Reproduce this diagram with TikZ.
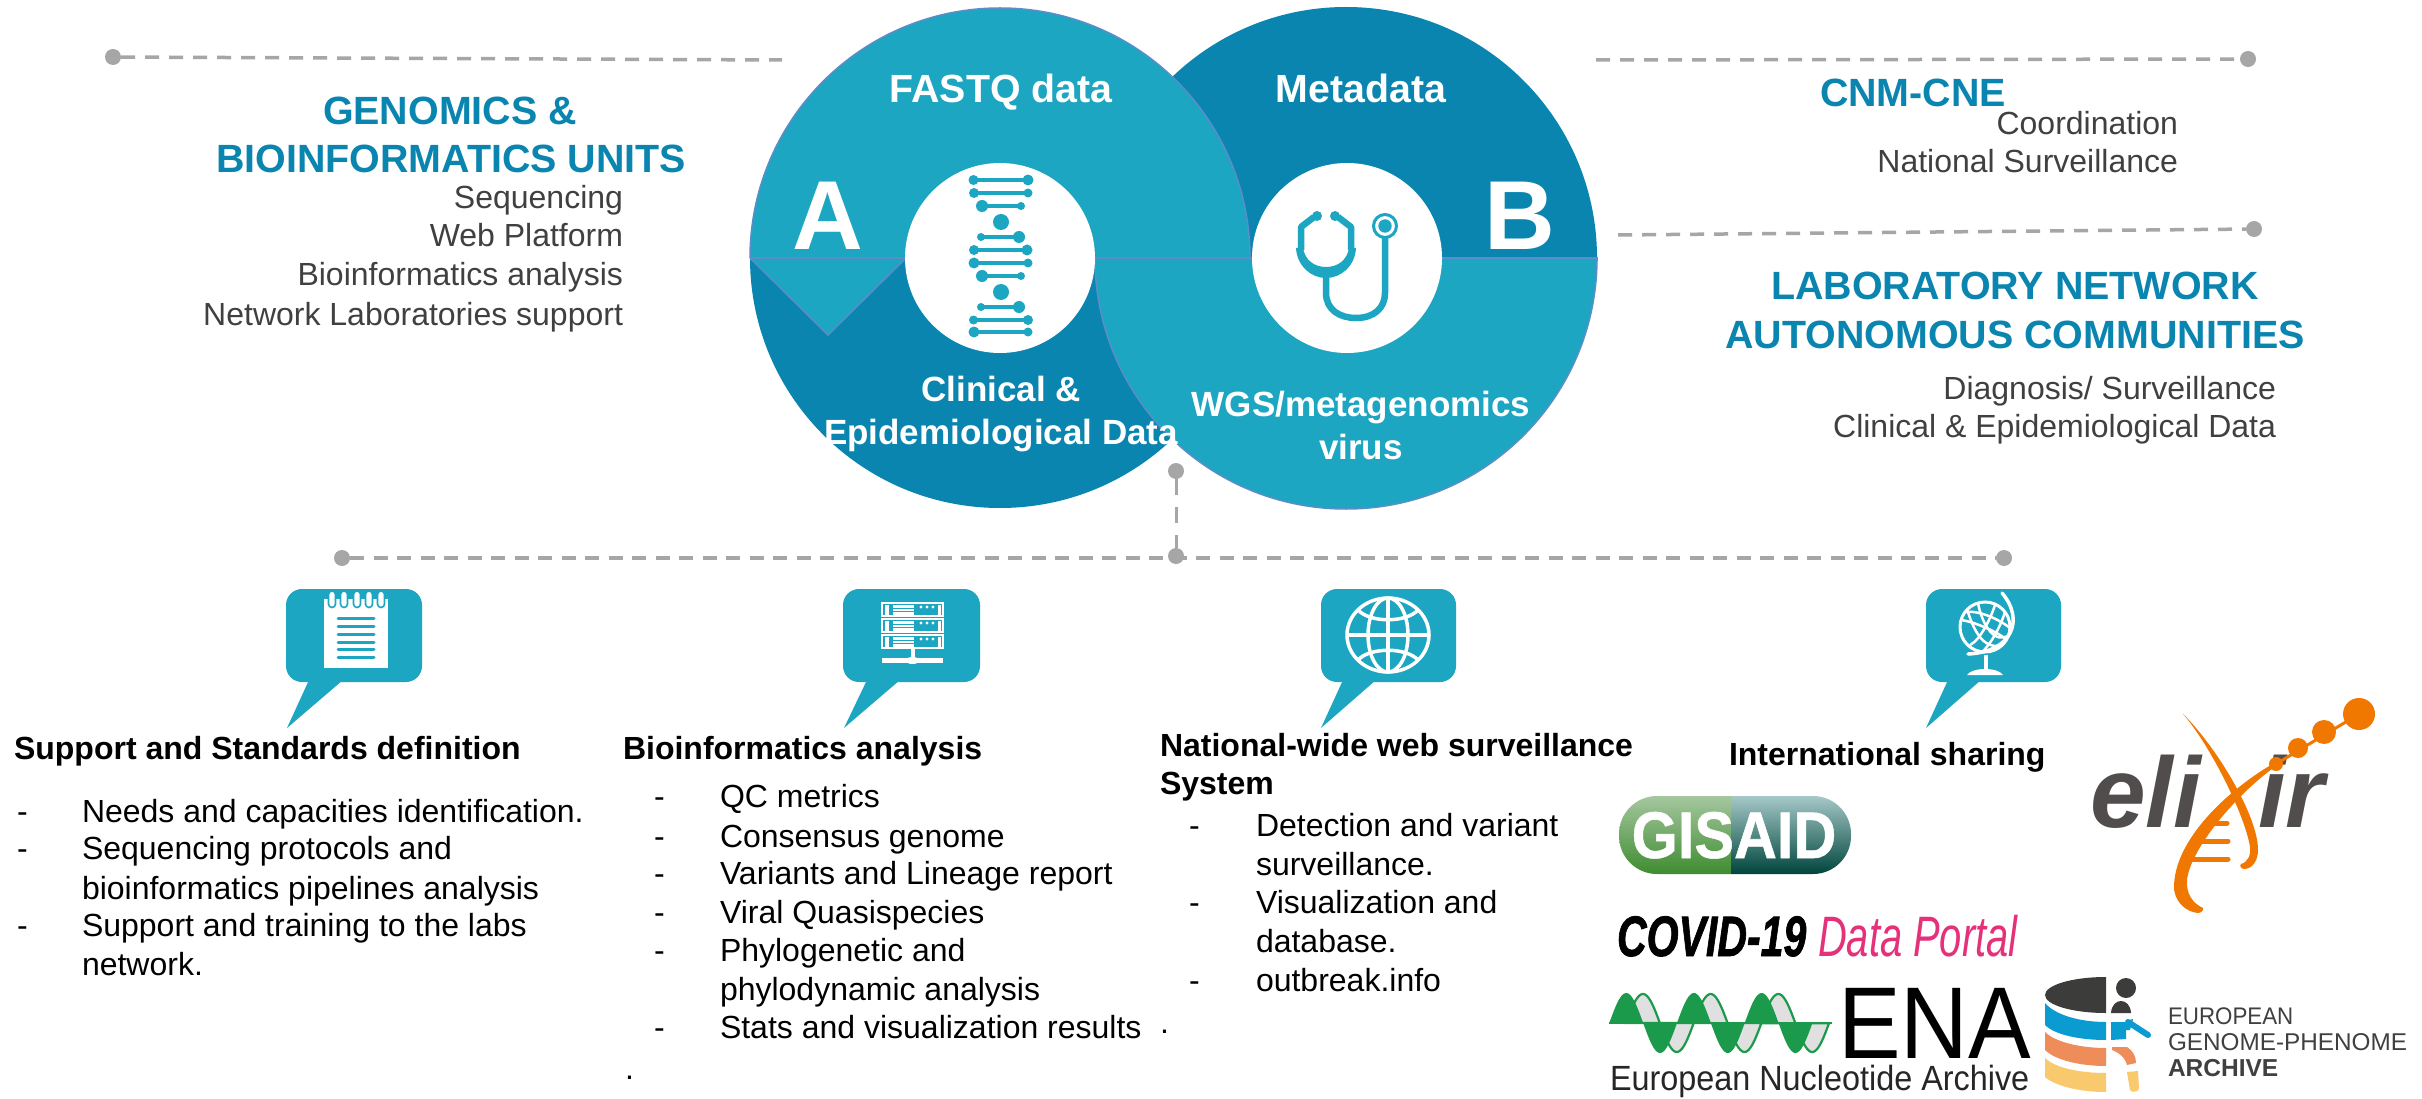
\documentclass[tikz,border=0pt]{standalone}
\usepackage{fontspec}
\usepackage{graphicx}
\setmainfont{Liberation Sans}
\newfontfamily\heavyfont{Liberation Sans}[BoldItalicFeatures={FakeBold=1.5},BoldFeatures={FakeBold=0.8}]
\definecolor{tealL}{HTML}{1CA6C1}
\definecolor{tealD}{HTML}{0A85AF}
\definecolor{edgeB}{HTML}{5B8DC8}
\definecolor{dashG}{HTML}{A6A6A6}
\definecolor{txtG}{HTML}{404040}
\definecolor{orangeE}{HTML}{F07800}
\definecolor{greyE}{HTML}{504D4C}
\definecolor{pinkP}{HTML}{E5307A}
\definecolor{greenE}{HTML}{1C9A4C}
\definecolor{egaD}{HTML}{3C3C3B}
\definecolor{egaB}{HTML}{0A9BD0}
\definecolor{egaO}{HTML}{EE8C5A}
\definecolor{egaY}{HTML}{F9C96D}
\definecolor{gisA}{HTML}{A5C79F}
\definecolor{gisB}{HTML}{5AA54A}
\definecolor{gisC}{HTML}{3F8C30}
\definecolor{gisD}{HTML}{A5C8C8}
\definecolor{gisE}{HTML}{2A7F70}
\definecolor{gisF}{HTML}{00453C}
\tikzset{
  tx/.style={inner sep=0pt,outer sep=0pt},
  greybody/.style={tx,text=txtG,font=\fontsize{32}{38}\selectfont},
  blackbody/.style={tx,text=black,font=\fontsize{32}{38}\selectfont},
  blackhead/.style={tx,text=black,font=\fontsize{32}{38}\selectfont\bfseries},
  tealhead/.style={tx,text=tealD,font=\fontsize{39.4}{46}\selectfont\bfseries},
  circtop/.style={tx,text=white,font=\fontsize{39.3}{46}\selectfont\bfseries},
  circlow/.style={tx,text=white,font=\fontsize{35}{44}\selectfont\bfseries},
  bigletter/.style={tx,text=white,font=\fontsize{98}{110}\selectfont\bfseries},
  gdot/.style={circle,fill=dashG,inner sep=0pt,minimum size=16pt},
  dashline/.style={draw=dashG,line width=3.5pt,dash pattern=on 14pt off 10pt},
  dashlow/.style={draw=dashG,line width=4.2pt,dash pattern=on 14pt off 9.5pt},
  dashvert/.style={draw=dashG,line width=3pt,dash pattern=on 16pt off 12pt},
  edgeline/.style={draw=edgeB,line width=1.5pt},
  rung/.style={draw=tealL,line width=4pt},
  ball/.style={fill=tealL},
  steth/.style={draw=tealL,line width=6.5pt,line join=round},
  web/.style={draw=white,line width=3.5pt},
  fine/.style={draw=white,line width=2.5pt},
}
\newcommand{\tl}[6]{\node[#4,anchor=base #5] (#1) at (#2,#3) {#6};}
\newcommand{\rungat}[5]{\draw[rung] (#1,#5) -- (#3,#5);\fill[ball] (#1,#5) circle[radius=#2pt] (#3,#5) circle[radius=#4pt];}
\newcommand{\callout}[5]{\fill[tealL,rounded corners=16pt] (#1,589) rectangle (#2,682);\fill[tealL] (#3,680) -- (#4,680) -- (#5,728) -- cycle;}
\newcommand{\srv}[1]{%
  \draw[white,line width=1.6pt,fill=tealL] (882,#1) rectangle (943,#1+13);
  \fill[white] (884.5,#1+1.5) rectangle (889,#1+11.5);
  \fill[white] (893,#1+1.5) rectangle (914,#1+11.5);
  \draw[tealL,line width=1pt] (893,#1+5) -- (914,#1+5) (893,#1+8.5) -- (914,#1+8.5);
  \fill[white] (938,#1+1.5) rectangle (941,#1+11.5);
  \fill[white] (921,#1+4) circle[radius=1.6pt] (927,#1+4) circle[radius=1.6pt] (933,#1+4) circle[radius=1.6pt];}
\begin{document}
\begin{tikzpicture}[x=1pt,y=-1pt]
\useasboundingbox (0,0) rectangle (2422,1099);
\fill[white] (0,0) rectangle (2422,1099);
% ---- overlapping discs
\begin{scope}\clip (1050,0) rectangle (1700,258);\fill[tealD] (1346,258) circle[radius=251pt];\end{scope}
\begin{scope}\clip (700,258) rectangle (1300,560);\fill[tealD] (1000,258) circle[radius=250pt];\end{scope}
\fill[tealL] (750,258) -- (906,258) -- (828,335) -- cycle;
\draw[edgeline] (750,258) -- (828,335) -- (906,258);
\begin{scope}\clip (700,0) rectangle (1300,258);\fill[tealL] (1000,258) circle[radius=250pt];\draw[edgeline] (1000,258) circle[radius=250pt];\end{scope}
\begin{scope}\clip (1050,258) rectangle (1700,560);\fill[tealL] (1346,258) circle[radius=251pt];\draw[edgeline] (1346,258) circle[radius=251pt];\end{scope}
\draw[edgeline] (750,258) -- (906,258) (1094,258) -- (1253,258);
\draw[edgeline] (1441,258) -- (1597,258);
\fill[white] (1000,258) circle[radius=95pt];
\fill[white] (1347,258) circle[radius=95pt];
% ---- DNA icon
\rungat{973.5}{5}{1028}{5.5}{180}
\rungat{974}{5}{1028}{4.5}{193}
\rungat{982}{6}{1021}{4}{206}
\fill[ball] (1001,222) circle[radius=8pt];
\rungat{981}{4}{1019}{6}{237}
\rungat{974}{5}{1027}{5.5}{250}
\rungat{974}{5.5}{1028}{4.5}{263}
\rungat{982}{6}{1021}{4}{276}
\fill[ball] (1001,292) circle[radius=8pt];
\rungat{981}{4}{1019}{6}{307}
\rungat{973.5}{4.5}{1028}{5}{320}
\rungat{974}{5.5}{1028}{4.5}{332}
% ---- stethoscope
\draw[steth] (1314,217) -- (1301,227) -- (1301,250);
\draw[steth] (1338,217) -- (1351,227) -- (1351,250);
\fill[tealL] (1317,216) circle[radius=5pt] (1335,216) circle[radius=5pt];
\fill[tealL] (1296,248) .. controls (1297,266) and (1311,278) .. (1326,278) .. controls (1341,278) and (1355,266) .. (1356,248) -- (1349,248) .. controls (1347,260) and (1338,267) .. (1326,267) .. controls (1314,267) and (1305,260) .. (1303,248) -- cycle;
\draw[steth] (1326,275) -- (1326,293) .. controls (1326,310) and (1340,318) .. (1356,318) .. controls (1374,318) and (1385,308) .. (1385,293) -- (1385,238);
\draw[tealL,line width=3pt,fill=white] (1385,226) circle[radius=11.5pt];
\fill[tealL] (1385,226) circle[radius=6.7pt];
% ---- circle labels
\tl{fastq}{1001}{103}{circtop}{}{FASTQ data}
\tl{meta}{1361}{103}{circtop}{}{Metadata}
\tl{clin}{1001}{401}{circlow}{}{Clinical \&}
\tl{epi}{1001}{444}{circlow}{}{Epidemiological Data}
\tl{wgs}{1361}{416}{circlow}{}{WGS/metagenomics}
\tl{virus}{1361}{459}{circlow}{}{virus}
\tl{letA}{828}{250}{bigletter}{}{A}
\tl{letB}{1520}{250}{bigletter}{}{B}
% ---- dashed leaders
\node[gdot] (d1) at (113,57) {};
\coordinate (e1) at (782,60);
\draw[dashline] (d1) -- (e1);
\node[gdot] (d2) at (2248,59) {};
\coordinate (e2) at (1596,60);
\draw[dashline] (e2) -- (d2);
\node[gdot] (d3) at (2254,229) {};
\coordinate (e3) at (1618,235);
\draw[dashline] (e3) -- (d3);
\node[gdot] (d4) at (1176,471) {};
\node[gdot] (d5) at (1176,556) {};
\draw[dashvert] (d4) -- (d5);
\node[gdot] (d6) at (342,558) {};
\node[gdot] (d7) at (2004,558) {};
\draw[dashlow] (d6) -- (d7);
% ---- top texts
\tl{h1}{450}{125}{tealhead}{}{GENOMICS \&}
\tl{h2}{451}{173}{tealhead}{}{BIOINFORMATICS UNITS}
\tl{g1}{623}{209}{greybody}{east}{Sequencing}
\tl{g2}{623}{247}{greybody}{east}{Web Platform}
\tl{g3}{623}{286}{greybody}{east}{Bioinformatics analysis}
\tl{g4}{623}{325}{greybody}{east}{Network Laboratories support}
\tl{h3}{1820}{107}{tealhead}{west}{CNM-CNE}
\tl{g5}{2178}{135}{greybody}{east}{Coordination}
\tl{g6}{2178}{173}{greybody}{east}{National Surveillance}
\tl{h4}{2015}{300}{tealhead}{}{LABORATORY NETWORK}
\tl{h5}{2015}{348}{tealhead}{}{AUTONOMOUS COMMUNITIES}
\tl{g7}{2276}{399}{greybody}{east}{Diagnosis/ Surveillance}
\tl{g8}{2276}{437}{greybody}{east}{Clinical \& Epidemiological Data}
% ---- callouts
\callout{286}{422}{309}{343}{287}
\callout{843}{980}{867}{900}{844}
\callout{1321}{1456}{1343}{1376}{1321}
\callout{1926}{2061}{1948}{1981}{1926}
% notepad
\fill[white] (324,599) rectangle (388,668);
\foreach \rx in {332,344,357,369,381}{\draw[tealL,line width=1.6pt,fill=white,rounded corners=3.5pt] (\rx-3.5,591) rectangle (\rx+3.5,607.5);}
\foreach \ly in {618,626,634,642,649.5,657}{\draw[tealL,line width=3pt,line cap=round] (338,\ly) -- (374,\ly);}
% server
\srv{603}\srv{619}\srv{635}
\draw[white,line width=4pt] (912.5,648) -- (912.5,660);
\draw[white,line width=5pt] (882,660.5) -- (943,660.5);
\fill[white] (912.5,660.5) ellipse[x radius=7pt,y radius=3.5pt];
% web globe
\draw[web] (1388,635) ellipse[x radius=41pt,y radius=37pt];
\draw[web] (1388,635) ellipse[x radius=20pt,y radius=37pt];
\draw[web] (1388,598) -- (1388,672) (1347,635) -- (1429,635);
\draw[web] (1358,610) .. controls (1370,623) and (1406,623) .. (1418,610);
\draw[web] (1358,660) .. controls (1370,647) and (1406,647) .. (1418,660);
% desk globe
\draw[fine,line width=3pt] (1985,627) circle[radius=25pt];
\draw[fine] (1967,609) .. controls (1975,635) and (1985,650) .. (2003,645);
\draw[fine] (1978,603) .. controls (1982,625) and (1995,645) .. (2009,635);
\draw[fine] (1961,620) .. controls (1975,622) and (1998,632) .. (2007,640);
\draw[fine] (1965,612) .. controls (1980,610) and (2000,620) .. (2010,628);
\draw[fine] (1995,605) .. controls (1990,620) and (1980,640) .. (1970,645);
\draw[fine] (2005,612) .. controls (2000,628) and (1990,645) .. (1982,652);
\draw[white,line width=3.5pt,line cap=round] (2002,593) .. controls (2025,620) and (2012,652) .. (1968,654);
\draw[white,line width=3.5pt] (1986,655) -- (1986,670);
\fill[white] (1967,675) .. controls (1972,667) and (1998,667) .. (2003,675) -- cycle;
% ---- lower texts
\tl{b0}{14}{759}{blackhead}{west}{Support and Standards definition}
\tl{b1d}{17}{822}{blackbody}{west}{-}
\tl{b1}{82}{822}{blackbody}{west}{Needs and capacities identification.}
\tl{b2d}{17}{859}{blackbody}{west}{-}
\tl{b2}{82}{859}{blackbody}{west}{Sequencing protocols and}
\tl{b3}{82}{899}{blackbody}{west}{bioinformatics pipelines analysis}
\tl{b4d}{17}{936}{blackbody}{west}{-}
\tl{b4}{82}{936}{blackbody}{west}{Support and training to the labs}
\tl{b5}{82}{975}{blackbody}{west}{network.}
\tl{c0}{623}{759}{blackhead}{west}{Bioinformatics analysis}
\tl{c1d}{654}{807}{blackbody}{west}{-}
\tl{c1}{720}{807}{blackbody}{west}{QC metrics}
\tl{c2d}{654}{847}{blackbody}{west}{-}
\tl{c2}{720}{847}{blackbody}{west}{Consensus genome}
\tl{c3d}{654}{884}{blackbody}{west}{-}
\tl{c3}{720}{884}{blackbody}{west}{Variants and Lineage report}
\tl{c4d}{654}{923}{blackbody}{west}{-}
\tl{c4}{720}{923}{blackbody}{west}{Viral Quasispecies}
\tl{c5d}{654}{961}{blackbody}{west}{-}
\tl{c5}{720}{961}{blackbody}{west}{Phylogenetic and}
\tl{c6}{720}{1000}{blackbody}{west}{phylodynamic analysis}
\tl{c7d}{654}{1038}{blackbody}{west}{-}
\tl{c7}{720}{1038}{blackbody}{west}{Stats and visualization results}
\tl{c8}{625}{1079}{blackbody}{west}{.}
\tl{n0}{1160}{756}{blackhead}{west}{National-wide web surveillance}
\tl{n1}{1160}{794}{blackhead}{west}{System}
\tl{n2d}{1189}{836}{blackbody}{west}{-}
\tl{n2}{1256}{836}{blackbody}{west}{Detection and variant}
\tl{n3}{1256}{875}{blackbody}{west}{surveillance.}
\tl{n4d}{1189}{913}{blackbody}{west}{-}
\tl{n4}{1256}{913}{blackbody}{west}{Visualization and}
\tl{n5}{1256}{952}{blackbody}{west}{database.}
\tl{n6d}{1189}{991}{blackbody}{west}{-}
\tl{n6}{1256}{991}{blackbody}{west}{outbreak.info}
\tl{n7}{1160}{1033}{blackbody}{west}{.}
\tl{i0}{1729}{765}{blackhead}{west}{International sharing}
% ---- GISAID
\begin{scope}
\clip[rounded corners=38pt] (1619,796) rectangle (1851,874);
\shade[top color=gisA,middle color=gisB,bottom color=gisC] (1619,796) rectangle (1731,874);
\shade[top color=gisD,middle color=gisE,bottom color=gisF] (1731,796) rectangle (1851,874);
\end{scope}
\node[tx,text=white,font=\heavyfont\fontsize{66}{70}\selectfont\bfseries,anchor=base] (gisaid) at (1734,858) {\scalebox{0.9}[1]{GISAID}};
% ---- COVID
\node[tx,text=black,font=\heavyfont\fontsize{57}{60}\selectfont\bfseries\itshape,anchor=base west] (covid) at (1617,956) {\scalebox{0.72}[1]{COVID-19}};
\node[tx,text=pinkP,font=\fontsize{57}{60}\selectfont\itshape,anchor=base west] (portal) at (1818,956) {\scalebox{0.7}[1]{Data Portal}};
% ---- ENA
\fill[black!12,draw=greenE,line width=2.2pt] plot[samples=150,domain=0:3] ({1626+67.7*\x},{1023-29*sin(360*\x)}) -- cycle;
\fill[greenE] plot[samples=150,domain=0:3] ({1609.3+67.7*\x},{1023-30*sin(360*\x)}) -- cycle;
\draw[greenE,line width=2.5pt] (1609,1023) -- (1832,1023);
\node[tx,text=black,font=\fontsize{102}{104}\selectfont,anchor=base west] (ena) at (1838,1058) {\scalebox{0.92}[1]{ENA}};
\node[tx,text=black!85,font=\fontsize{35}{38}\selectfont,anchor=base west] (enaname) at (1610,1090) {\scalebox{0.925}[1]{European Nucleotide Archive}};
% ---- EGA
\begin{scope}\clip (2040,970) rectangle (2106,1013);\fill[egaD] (2106,995) ellipse[x radius=61pt,y radius=18pt];\end{scope}
\fill[egaB] (2045,1003) .. controls (2055,1015) and (2080,1022) .. (2106,1022) -- (2106,1040) .. controls (2080,1040) and (2055,1035) .. (2045,1025) -- cycle;
\fill[egaO] (2045,1032) .. controls (2055,1042) and (2080,1048) .. (2106,1048) -- (2106,1066) .. controls (2080,1066) and (2055,1060) .. (2045,1050) -- cycle;
\fill[egaY] (2045,1058) .. controls (2055,1068) and (2080,1073) .. (2106,1073) -- (2106,1092) .. controls (2080,1092) and (2055,1086) .. (2045,1077) -- cycle;
\fill[egaD] (2126,988) circle[radius=10pt];
\fill[egaD] (2111,1013) .. controls (2112,997) and (2130,997) .. (2131,1013) -- cycle;
\fill[egaB] (2111,1022) -- (2126,1022) -- (2126,1039) -- (2111,1040) -- cycle;
\draw[egaB,line width=6pt,line cap=round] (2128,1022) -- (2148,1035);
\fill[egaB] (2126,1021) -- (2133,1019) -- (2130,1030) -- (2126,1030) -- cycle;
\fill[egaO] (2112,1047) -- (2127,1047) .. controls (2133,1051) and (2136,1056) .. (2136,1063) -- (2127,1065) .. controls (2126,1060) and (2122,1054) .. (2112,1050) -- cycle;
\fill[egaY] (2127,1072) -- (2138,1071) -- (2139,1088) .. controls (2139,1092) and (2131,1093) .. (2130,1090) -- cycle;
\node[tx,text=txtG,font=\fontsize{24}{26}\selectfont,anchor=base west] (eu) at (2168,1024) {\scalebox{0.93}[1]{EUROPEAN}};
\node[tx,text=txtG,font=\fontsize{24.3}{26}\selectfont,anchor=base west] (gp) at (2168,1050) {GENOME-PHENOME};
\node[tx,text=txtG,font=\fontsize{24.5}{26}\selectfont\bfseries,anchor=base west] (ar) at (2168,1076) {ARCHIVE};
% ---- ELIXIR
\node[tx,text=greyE,font=\fontsize{100}{102}\selectfont\bfseries\itshape,anchor=base west] (eli) at (2090,827) {eli};
\node[tx,text=greyE,font=\fontsize{100}{102}\selectfont\bfseries\itshape,anchor=base west] (ir) at (2258,827) {ir};
\fill[orangeE] (2183,714) .. controls (2215,745) and (2258,815) .. (2258,850) .. controls (2258,860) and (2253,868) .. (2245,869) .. controls (2241,869) and (2239,866) .. (2241,864) .. controls (2248,862) and (2251,855) .. (2250,847) .. controls (2245,815) and (2210,745) .. (2183,714) -- cycle;
\fill[orangeE] (2276,762) .. controls (2235,785) and (2176,835) .. (2174,885) .. controls (2173,900) and (2185,912) .. (2198,913) .. controls (2201,913) and (2204,910) .. (2203,908) .. controls (2192,903) and (2186,893) .. (2187,880) .. controls (2190,850) and (2235,795) .. (2276,766) -- cycle;
\draw[orangeE,line width=5pt,line cap=round] (2205,823) -- (2227,823) (2197,841) -- (2228,841) (2188,859) -- (2228,859);
\draw[orangeE,line width=3pt] (2276,764) -- (2359,714);
\fill[orangeE] (2276,764) circle[radius=7pt] (2298,748) circle[radius=10pt] (2324,732) circle[radius=12pt] (2359,714) circle[radius=16pt];
\end{tikzpicture}
\end{document}
